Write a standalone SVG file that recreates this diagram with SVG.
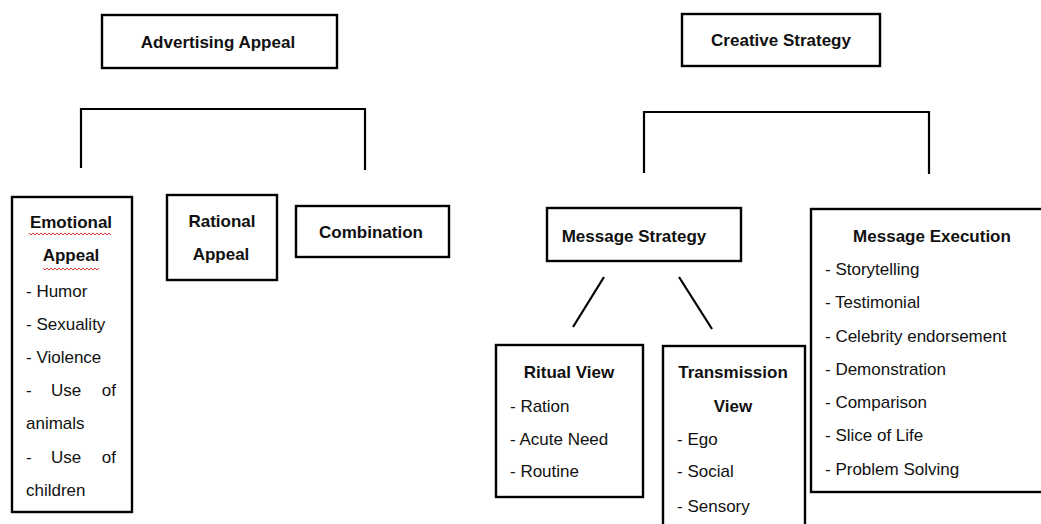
<svg xmlns="http://www.w3.org/2000/svg" width="1041" height="524" viewBox="0 0 1041 524">
<style>
.box{fill:#fff;stroke:#000;stroke-width:2.4}
.ln{stroke:#000;stroke-width:2.2;fill:none}
text{font-family:"Liberation Sans",Arial,sans-serif;font-size:17px;fill:#111}
.h{font-weight:bold;text-anchor:middle}
.sq{stroke:#d22;stroke-width:0.9;fill:none}
</style>
<rect width="1041" height="524" fill="#fff"/>
<g id="connectors">
<polyline class="ln" points="81,168 81,109 365,109 365,170"/>
<polyline class="ln" points="644,173 644,112 929,112 929,174"/>
<line class="ln" x1="604" y1="277" x2="573" y2="327"/>
<line class="ln" x1="679" y1="277" x2="712" y2="329"/>
</g>
<g id="advertising-appeal">
<rect class="box" x="102" y="15" width="235" height="53"/>
<text class="h" x="218" y="48">Advertising Appeal</text>
</g>
<g id="creative-strategy">
<rect class="box" x="682" y="14" width="198" height="52"/>
<text class="h" x="781" y="46">Creative Strategy</text>
</g>
<g id="emotional-appeal">
<rect class="box" x="12" y="197" width="120" height="315"/>
<text class="h" x="71" y="228">Emotional</text>
<text class="h" x="71" y="261">Appeal</text>
<path class="sq" d="M29,233 l2,2 l2,-2 l2,2 l2,-2 l2,2 l2,-2 l2,2 l2,-2 l2,2 l2,-2 l2,2 l2,-2 l2,2 l2,-2 l2,2 l2,-2 l2,2 l2,-2 l2,2 l2,-2 l2,2 l2,-2 l2,2 l2,-2 l2,2 l2,-2 l2,2 l2,-2 l2,2 l2,-2 l2,2 l2,-2 l2,2 l2,-2 l2,2 l2,-2 l2,2 l2,-2 l2,2 l2,-2 l2,2"/>
<path class="sq" d="M43,268 l2,2 l2,-2 l2,2 l2,-2 l2,2 l2,-2 l2,2 l2,-2 l2,2 l2,-2 l2,2 l2,-2 l2,2 l2,-2 l2,2 l2,-2 l2,2 l2,-2 l2,2 l2,-2 l2,2 l2,-2 l2,2 l2,-2 l2,2 l2,-2 l2,2 l2,-2"/>
<text x="26" y="297">- Humor</text>
<text x="26" y="330">- Sexuality</text>
<text x="26" y="363">- Violence</text>
<text x="26" y="396">-</text><text x="51" y="396">Use</text><text x="116" y="396" text-anchor="end">of</text>
<text x="26" y="429">animals</text>
<text x="26" y="463">-</text><text x="51" y="463">Use</text><text x="116" y="463" text-anchor="end">of</text>
<text x="26" y="496">children</text>
</g>
<g id="rational-appeal">
<rect class="box" x="167" y="195" width="110" height="85"/>
<text class="h" x="222" y="227">Rational</text>
<text class="h" x="221" y="260">Appeal</text>
</g>
<g id="combination">
<rect class="box" x="296" y="206" width="153" height="51"/>
<text class="h" x="371" y="238">Combination</text>
</g>
<g id="message-strategy">
<rect class="box" x="547" y="208" width="194" height="53"/>
<text class="h" x="634" y="242">Message Strategy</text>
</g>
<g id="ritual-view">
<rect class="box" x="496" y="345" width="147" height="152"/>
<text class="h" x="569" y="378">Ritual View</text>
<text x="510" y="412">- Ration</text>
<text x="510" y="445">- Acute Need</text>
<text x="510" y="477">- Routine</text>
</g>
<g id="transmission-view">
<rect class="box" x="663" y="346" width="142" height="190"/>
<text class="h" x="733" y="378">Transmission</text>
<text class="h" x="733" y="412">View</text>
<text x="677" y="445">- Ego</text>
<text x="677" y="477">- Social</text>
<text x="677" y="512">- Sensory</text>
</g>
<g id="message-execution">
<rect class="box" x="811" y="209" width="240" height="283"/>
<text class="h" x="932" y="242">Message Execution</text>
<text x="825" y="275">- Storytelling</text>
<text x="825" y="308">- Testimonial</text>
<text x="825" y="342">- Celebrity endorsement</text>
<text x="825" y="375">- Demonstration</text>
<text x="825" y="408">- Comparison</text>
<text x="825" y="441">- Slice of Life</text>
<text x="825" y="475">- Problem Solving</text>
</g>
</svg>
